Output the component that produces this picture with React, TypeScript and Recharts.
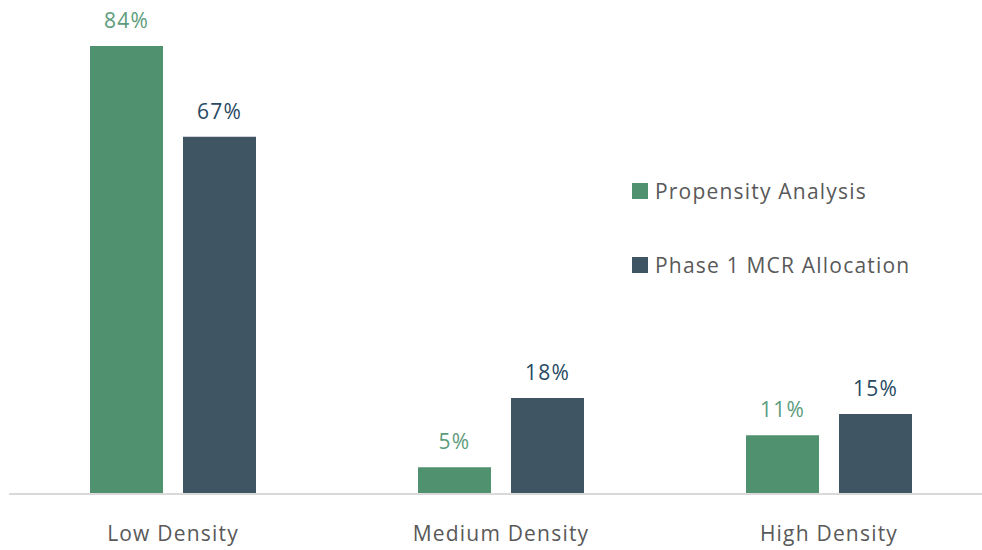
import React from 'react';
import { BarChart, Bar, XAxis, YAxis, LabelList } from 'recharts';

// categories and values (percent)
const categories = ['Low Density', 'Medium Density', 'High Density'];
const propensity = [84, 5, 11];
const phase1 = [67, 18, 15];

const data = categories.map((name, i) => ({
  name,
  propensity: propensity[i],
  phase1: phase1[i],
}));

const GREEN = '#50916f';
const SLATE = '#3f5563';
const FONT = '"Open Sans", Lato, sans-serif';
const FS = 21;
const LS = 1.2; // reference font runs wider

const series = [
  { key: 'propensity', name: 'Propensity Analysis', color: GREEN, label: '#5c9c7c' },
  { key: 'phase1', name: 'Phase 1 MCR Allocation', color: SLATE, label: '#284a63' },
];

export default function App() {
  return (
    <div style={{ position: 'absolute', left: 0, top: 0, width: 982, height: 550, overflow: 'hidden', background: '#fff' }}>
      <BarChart
        width={1002} height={550} data={data}
        margin={{ top: 14, right: 9, left: 9, bottom: 0 }}
        barSize={73} barGap={20}
      >
        <XAxis
          dataKey="name" height={56}
          axisLine={{ stroke: '#d9d9d9', strokeWidth: 2 }} tickLine={false}
          tickMargin={26}
          tick={{ fill: '#595959', fontSize: FS, fontFamily: FONT, letterSpacing: LS }}
        />
        <YAxis hide domain={[0, 90]} />
        {series.map((s) => (
          <Bar key={s.key} dataKey={s.key} name={s.name} fill={s.color} isAnimationActive={false}>
            <LabelList dataKey={s.key} position="top" offset={18}
              formatter={(v: any) => `${v}%`}
              style={{ fill: s.label, fontSize: FS, fontFamily: FONT, letterSpacing: LS }} />
          </Bar>
        ))}
      </BarChart>

      {/* legend */}
      <div style={{ position: 'absolute', left: 632, top: 178, fontFamily: FONT }}>
        {series.map((s, i) => (
          <div key={s.key} style={{
            display: 'flex', alignItems: 'center',
            height: 26, marginBottom: i === 0 ? 48 : 0,
          }}>
            <span style={{ width: 16, height: 16, background: s.color, display: 'inline-block', marginRight: 7 }} />
            <span style={{ fontSize: FS, color: '#595959', whiteSpace: 'nowrap', letterSpacing: LS }}>{s.name}</span>
          </div>
        ))}
      </div>
    </div>
  );
}
